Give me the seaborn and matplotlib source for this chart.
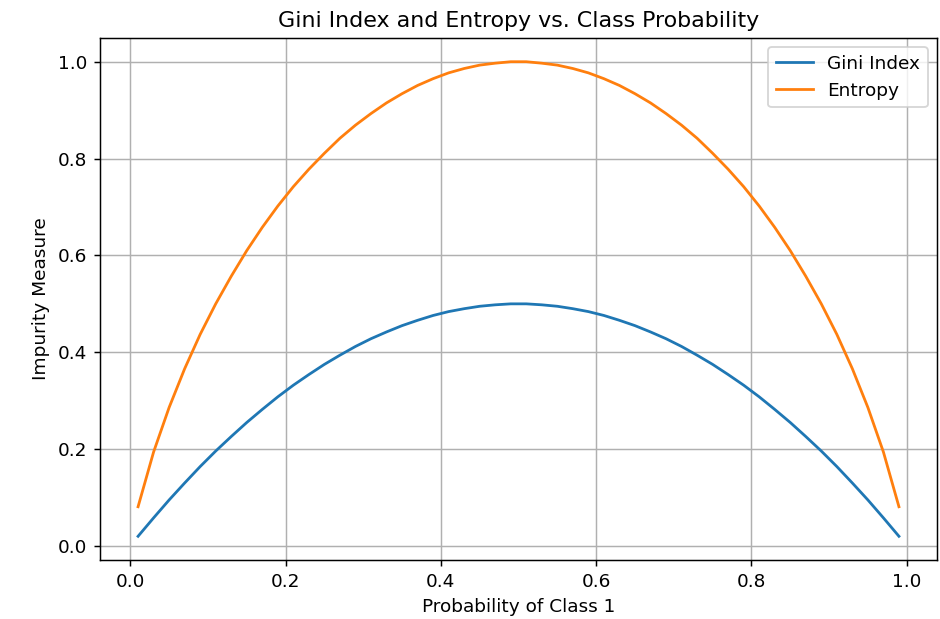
import matplotlib
matplotlib.use("Agg")
import matplotlib.pyplot as plt
import seaborn as sns
import pandas as pd

# Probability of class 1 (0.01 to 0.99, step 0.02)
half_p = [0.01, 0.03, 0.05, 0.07, 0.09, 0.11, 0.13, 0.15, 0.17, 0.19,
          0.21, 0.23, 0.25, 0.27, 0.29, 0.31, 0.33, 0.35, 0.37, 0.39,
          0.41, 0.43, 0.45, 0.47, 0.49]
prob = half_p + [round(1 - v, 2) for v in reversed(half_p)]

gini_half = [0.020, 0.058, 0.095, 0.130, 0.164, 0.196, 0.226, 0.255, 0.282, 0.308,
             0.332, 0.354, 0.375, 0.394, 0.412, 0.428, 0.442, 0.455, 0.466, 0.476,
             0.484, 0.490, 0.495, 0.498, 0.500]
gini = gini_half + list(reversed(gini_half))

entropy_half = [0.081, 0.194, 0.286, 0.366, 0.437, 0.500, 0.557, 0.610, 0.658, 0.702,
                0.742, 0.778, 0.811, 0.842, 0.869, 0.893, 0.915, 0.934, 0.951, 0.965,
                0.977, 0.986, 0.993, 0.997, 1.000]
entropy = entropy_half + list(reversed(entropy_half))

df = pd.DataFrame({
    "p": prob * 2,
    "value": gini + entropy,
    "measure": ["Gini Index"] * len(gini) + ["Entropy"] * len(entropy),
})

plt.rcParams["font.family"] = ["DejaVu Sans"]
DPI = 133
fig, ax = plt.subplots(figsize=(940 / DPI, 619 / DPI), dpi=DPI)
sns.lineplot(data=df, x="p", y="value", hue="measure",
             palette=["#1f77b4", "#ff7f0e"], linewidth=1.5, ax=ax)
ax.set_title("Gini Index and Entropy vs. Class Probability", fontsize=12)
ax.set_xlabel("Probability of Class 1", fontsize=10)
ax.set_ylabel("Impurity Measure", fontsize=10)
ax.tick_params(labelsize=10)
ax.grid(True, color="#b0b0b0", linewidth=0.8)
ax.legend(title=None, loc="upper right", fontsize=10)
fig.subplots_adjust(left=0.1064, right=0.9968, top=0.9386, bottom=0.0953)
fig.savefig("out.png", dpi=DPI)
